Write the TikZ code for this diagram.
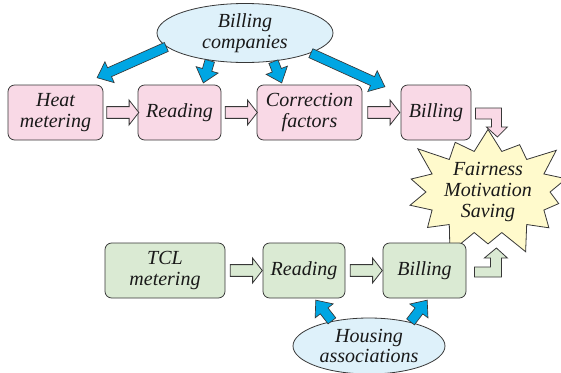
\documentclass[tikz,border=0pt]{standalone}
\usepackage{xcolor}
\usepackage{fontspec}
\setmainfont{Liberation Serif}
\usetikzlibrary{calc,shapes.arrows,shapes.symbols,shapes.geometric}

\definecolor{linec}{RGB}{55,55,55}
\definecolor{pinkc}{RGB}{249,217,230}
\definecolor{greenc}{RGB}{218,234,211}
\definecolor{skyc}{RGB}{222,241,250}
\definecolor{cyanc}{RGB}{0,166,227}
\definecolor{starc}{RGB}{255,250,204}

\tikzset{
  txt/.style={font=\fontsize{15}{15.5}\selectfont\itshape, align=center, text=black!90},
  pbox/.style={txt, draw=linec, fill=pinkc, rounded corners=5pt, line width=0.6pt, minimum height=41.25pt, inner sep=2pt},
  gbox/.style={pbox, fill=greenc},
  oval/.style={txt, ellipse, draw=linec, fill=skyc, line width=0.6pt, inner sep=0pt},
  bluearrow/.style={single arrow, draw=linec, fill=cyanc, line width=0.5pt, inner xsep=0pt, inner ysep=3.4pt,
    single arrow head extend=4.9pt, single arrow tip angle=80},
  harrow/.style={single arrow, draw=linec, line width=0.6pt, inner xsep=0pt, inner ysep=4.1pt, minimum height=24pt,
    single arrow head extend=4.9pt, single arrow tip angle=104},
  bentarrow/.style={draw=linec, line width=0.6pt, line join=miter}
}

% fat arrow from #2 (tail) to #3 (tip)
\newcommand\fatarrow[3][]{%
  \path let \p1=($(#3)-(#2)$), \n1={atan2(\y1,\x1)}, \n2={veclen(\x1,\y1)} in
    node[bluearrow, #1, minimum height=\n2, rotate=-\n1, anchor=tail] at (#2) {};}

\begin{document}
\begin{tikzpicture}[x=0.75pt,y=0.75pt,yscale=-1,xscale=1]
\useasboundingbox (0,0) rectangle (561,372);

%Shape: Ellipse [Billing companies]
\node[oval, minimum width=132pt, minimum height=44.25pt] (bc) at (245,33) {Billing\\companies};
%Shape: Ellipse [Housing associations]
\node[oval, minimum width=114pt, minimum height=42pt] (ha) at (369,346) {Housing\\associations};

%Shape: Starburst
\node[txt, starburst, draw=linec, fill=starc, line width=0.6pt, minimum width=97pt, minimum height=76pt,
  starburst points=14, starburst point height=22pt, inner sep=0pt] (fair) at (488,192) {Fairness\\Motivation\\Saving};

% top row
\node[pbox, minimum width=71.25pt] (heat) at (55.5,112.5) {Heat\\metering};
\node[pbox, minimum width=62.25pt] (read1) at (179.5,112.5) {Reading};
\node[pbox, minimum width=78.75pt] (corr) at (309.5,112.5) {Correction\\factors};
\node[pbox, minimum width=52.5pt] (bill1) at (436,112.5) {Billing};

% bottom row
\node[gbox, minimum width=90pt] (tcl) at (165,270.5) {TCL\\metering};
\node[gbox, minimum width=61.5pt] (read2) at (304,270.5) {Reading};
\node[gbox, minimum width=62.25pt] (bill2) at (424.5,270.5) {Billing};

% hollow arrows
\path (heat.east) -- node[harrow, fill=pinkc] {} (read1.west);
\path (read1.east) -- node[harrow, fill=pinkc] {} (corr.west);
\path (corr.east) -- node[harrow, fill=pinkc] {} (bill1.west);
\path (tcl.east) -- node[harrow, fill=greenc] {} (read2.west);
\path (read2.east) -- node[harrow, fill=greenc] {} (bill2.west);

% bent arrows to the star
\draw[bentarrow, fill=pinkc] ($(bill1.east)+(4,-4.5)$) -- ++(26,0) -- ++(0,19) -- ++(6,0) -- ++(-10,10)
  -- ++(-11,-10) -- ++(5,0) -- ++(0,-8) -- ++(-16,0) -- cycle;
\draw[bentarrow, fill=greenc] ($(bill2.east)+(8,6.5)$) -- ++(27,0) -- ++(0,-19) -- ++(6,0) -- ++(-11,-10)
  -- ++(-12,10) -- ++(6,0) -- ++(0,9) -- ++(-16,0) -- cycle;

% blue arrows
\fatarrow{bc.190}{$(heat.north east)+(-6,-7)$}
\fatarrow{bc.218}{$(read1.north east)+(-18,-2)$}
\fatarrow{bc.315}{$(corr.north west)+(25,-2)$}
\fatarrow{bc.-17}{$(bill1.north west)+(-16,2)$}
\fatarrow{ha.146}{$(read2.south)+(12,2)$}
\fatarrow{ha.30}{$(bill2.south)+(2.5,2)$}

\end{tikzpicture}
\end{document}
